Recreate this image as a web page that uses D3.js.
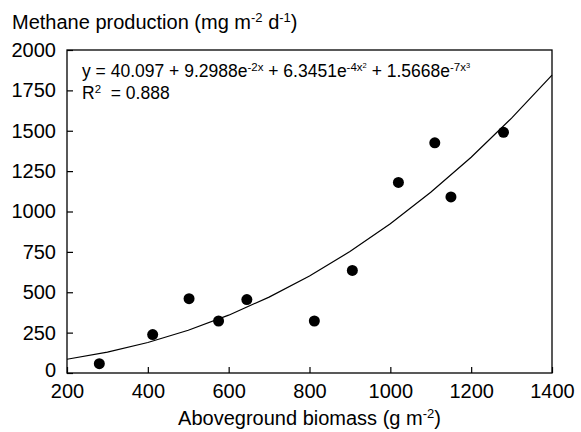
<!DOCTYPE html>
<html>
<head>
<meta charset="utf-8">
<script src="https://cdn.jsdelivr.net/npm/d3@7"></script>
<style>
  body { margin: 0; background: #fff; }
  svg text { font-family: "Liberation Sans", Arial, sans-serif; fill: #000; }
</style>
</head>
<body>
<div id="chart"></div>
<script>
const biomass = [280, 412, 502, 575, 645, 812, 906, 1020, 1110, 1150, 1280];
const methane = [58, 238, 460, 322, 455, 322, 635, 1180, 1425, 1090, 1490];

// Fitted curve
const fitBiomass = [200, 300, 400, 500, 600, 700, 800, 900, 1000, 1100, 1200, 1300, 1400];
const fitMethane = [85, 129, 189, 265, 358, 470, 601, 752, 924, 1119, 1336, 1578, 1844];

const xTicks = [200, 400, 600, 800, 1000, 1200, 1400];
const yTicks = [0, 250, 500, 750, 1000, 1250, 1500, 1750, 2000];

const W = 581, H = 432;
const margin = {top: 50, right: 29, bottom: 59, left: 67};
const width = W - margin.left - margin.right;
const height = H - margin.top - margin.bottom;

const svg = d3.select("#chart").append("svg")
  .attr("width", W)
  .attr("height", H);

const g = svg.append("g")
  .attr("transform", `translate(${margin.left},${margin.top})`);

const x = d3.scaleLinear().domain([200, 1400]).range([0, width]);
const y = d3.scaleLinear().domain([0, 2000]).range([height, 0]);

// Axes, ticks pointing inward
const xAxis = g.append("g")
  .attr("transform", `translate(0,${height})`)
  .call(d3.axisBottom(x).tickValues(xTicks).tickFormat(d3.format("d"))
    .tickSizeInner(-6).tickSizeOuter(0).tickPadding(12));
const yAxis = g.append("g")
  .call(d3.axisLeft(y).tickValues(yTicks).tickFormat(d3.format("d"))
    .tickSizeInner(-6).tickSizeOuter(0).tickPadding(11));

[xAxis, yAxis].forEach(a => {
  a.select(".domain").remove();
  a.selectAll("line").attr("stroke", "#000").attr("stroke-width", 1.2);
  a.selectAll("text").style("font-size", "20px")
    .style("font-family", '"Liberation Sans", Arial, sans-serif');
});
xAxis.selectAll("text").attr("dy", "0.71em").attr("y", 11);
// lift the "0" label a touch so it clears "200"
yAxis.selectAll("text").filter(d => d === 0).attr("y", -3);

// frame
g.append("rect")
  .attr("width", width)
  .attr("height", height)
  .attr("fill", "none")
  .attr("stroke", "#000")
  .attr("stroke-width", 1.3);

// fitted curve
const line = d3.line()
  .x((d, i) => x(fitBiomass[i]))
  .y(d => y(d));

g.append("path")
  .datum(fitMethane)
  .attr("fill", "none")
  .attr("stroke", "#000")
  .attr("stroke-width", 1.2)
  .attr("d", line);

// points
g.selectAll("circle")
  .data(biomass)
  .join("circle")
  .attr("cx", d => x(d))
  .attr("cy", (d, i) => y(methane[i]))
  .attr("r", 5.5)
  .attr("fill", "#000");

// equation
const eq = g.append("text")
  .attr("x", 15)
  .attr("y", 27)
  .style("font-size", "17.5px");
eq.append("tspan").text("y = 40.097 + 9.2988e");
eq.append("tspan").attr("dy", -6).style("font-size", "11.5px").text("-2x");
eq.append("tspan").attr("dy", 6).text(" + 6.3451e");
eq.append("tspan").attr("dy", -6).style("font-size", "11.5px").text("-4x");
eq.append("tspan").attr("dy", -3).style("font-size", "7.5px").text("2");
eq.append("tspan").attr("dy", 9).text(" + 1.5668e");
eq.append("tspan").attr("dy", -6).style("font-size", "11.5px").text("-7x");
eq.append("tspan").attr("dy", -3).style("font-size", "7.5px").text("3");

const r2 = g.append("text")
  .attr("x", 15)
  .attr("y", 49)
  .style("font-size", "17.5px");
r2.append("tspan").text("R");
r2.append("tspan").attr("dy", -6).style("font-size", "11.5px").text("2");
r2.append("tspan").attr("dy", 6).text("  = 0.888").attr("xml:space", "preserve");

// y title
const yt = svg.append("text")
  .attr("x", 12)
  .attr("y", 29)
  .style("font-size", "20px");
yt.append("tspan").text("Methane production (mg m");
yt.append("tspan").attr("dy", -7).style("font-size", "13px").text("-2");
yt.append("tspan").attr("dy", 7).text(" d");
yt.append("tspan").attr("dy", -7).style("font-size", "13px").text("-1");
yt.append("tspan").attr("dy", 7).text(")");

// x title
const xt = svg.append("text")
  .attr("x", margin.left + width / 2)
  .attr("y", 425)
  .attr("text-anchor", "middle")
  .style("font-size", "20px");
xt.append("tspan").text("Aboveground biomass (g m");
xt.append("tspan").attr("dy", -7).style("font-size", "13px").text("-2");
xt.append("tspan").attr("dy", 7).text(")");
</script>
</body>
</html>
